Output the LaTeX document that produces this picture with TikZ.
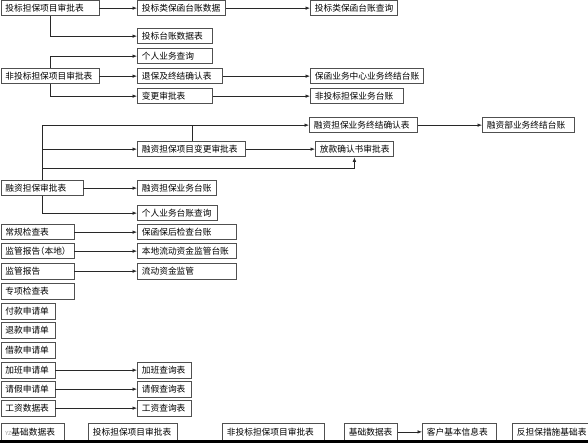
\documentclass[tikz,border=0pt]{standalone}
\usepackage{fontspec}
\setmainfont{Noto Sans CJK SC}[RawFeature=+halt]
\usepackage{xcolor}
\definecolor{boxgray}{RGB}{80,80,80}
\definecolor{linegray}{RGB}{40,40,40}
\usetikzlibrary{arrows.meta}

\begin{document}
\begin{tikzpicture}[x=1pt,y=-1pt,
      font=\fontsize{8.7}{10}\selectfont,
      box/.style={draw=boxgray,fill=white,anchor=north west,line width=0.8pt,
                  inner xsep=4.5pt,inner ysep=0pt,minimum height=15.5pt,
                  text width=\the\dimexpr#1pt-9pt\relax,align=left},
      arr/.style={-{Latex[length=4.5pt,width=3.5pt]},linegray,line width=0.6pt}]
    \useasboundingbox (0,0) rectangle (588,443);
    \fill[white] (0,0) rectangle (588,443);
    \node[box=98] (tbsp) at (0.5,0) {投标担保项目审批表};
    \node[box=88] (tbsj) at (137,0) {投标类保函台账数据};
    \node[box=87] (tbcx) at (310,0) {投标类保函台账查询};
    \node[box=75] (tbtz) at (137,28) {投标台账数据表};
    \node[box=75] (grcx) at (137,48) {个人业务查询};
    \node[box=98] (ftb) at (0.5,68) {非投标担保项目审批表};
    \node[box=85] (tbqr) at (137,68) {退保及终结确认表};
    \node[box=75] (bgsp) at (137,88) {变更审批表};
    \node[box=113] (zztz) at (310,68) {保函业务中心业务终结台账};
    \node[box=93] (ftz) at (310,88) {非投标担保业务台账};
    \draw[arr] (tbsp) -- (tbsj);
    \draw[arr] (tbsj) -- (tbcx);
    \draw[arr] ([xshift=50pt]tbsp.south west) |- (tbtz.west);
    \draw[arr] ([xshift=50pt]ftb.north west) |- (grcx.west);
    \draw[arr] (ftb) -- (tbqr);
    \draw[arr] ([xshift=50pt]ftb.south west) |- (bgsp.west);
    \draw[arr] (tbqr) -- (zztz);
    \draw[arr] (bgsp) -- (ftz);

    \node[box=108] (zjqr) at (309,117) {融资担保业务终结确认表};
    \node[box=92] (zjtz) at (482,117) {融资部业务终结台账};
    \node[box=108] (rzbg) at (137,141) {融资担保项目变更审批表};
    \node[box=78] (fksp) at (315,141) {放款确认书审批表};
    \node[box=82] (rzsp) at (0.5,180) {融资担保审批表};
    \node[box=79] (rztz) at (137,180) {融资担保业务台账};
    \node[box=80] (grtz) at (137,205) {个人业务台账查询};
    \draw[arr] ([xshift=41.5pt]rzsp.north west) |- (zjqr.west);
    \draw[arr] ([xshift=41.5pt]rzsp.north west) |- (rzbg.west);
    \draw[arr] ([xshift=41.5pt]rzsp.north west) |- ([yshift=-11pt]fksp.south) -- (fksp.south);
    \draw[arr] ([xshift=41.5pt]rzsp.south west) |- (grtz.west);
    \coordinate (bgtop) at ([xshift=55pt]rzbg.north west);
    \draw[linegray,line width=0.6pt] (bgtop) -- (bgtop |- zjqr.west);
    \draw[arr] (rzbg) -- (fksp);
    \draw[arr] (zjqr) -- (zjtz);
    \draw[arr] (rzsp) -- (rztz);

    \node[box=73] (cgjc) at (0.5,224) {常规检查表};
    \node[box=99] (bhjc) at (137,224) {保函保后检查台账};
    \node[box=73] (jgbd) at (0.5,243) {监管报告（本地）};
    \node[box=99] (bdjg) at (137,243) {本地流动资金监管台账};
    \node[box=73] (jgbg) at (0.5,263) {监管报告};
    \node[box=99] (ldjg) at (137,263) {流动资金监管};
    \node[box=73] (zxjc) at (0.5,283) {专项检查表};
    \node[box=54] (fksq) at (0.5,303) {付款申请单};
    \node[box=54] (tksq) at (0.5,322) {退款申请单};
    \node[box=54] (jksq) at (0.5,342) {借款申请单};
    \node[box=54] (jbsq) at (0.5,362) {加班申请单};
    \node[box=54] (jbcx) at (137,362) {加班查询表};
    \node[box=54] (qjsq) at (0.5,381) {请假申请单};
    \node[box=54] (qjcx) at (137,381) {请假查询表};
    \node[box=54] (gzsj) at (0.5,400) {工资数据表};
    \node[box=54] (gzcx) at (137,400) {工资查询表};
    \draw[arr] (cgjc) -- (bhjc);
    \draw[arr] (jgbd) -- (bdjg);
    \draw[arr] (jgbg) -- (ldjg);
    \draw[arr] (jbsq) -- (jbcx);
    \draw[arr] (qjsq) -- (qjcx);
    \draw[arr] (gzsj) -- (gzcx);

    \node[box=63,minimum height=17pt] (yzjc) at (0.5,423) {{\fontsize{5.5}{5}\selectfont\color{gray!80}YZ}基础数据表};
    \node[box=89,minimum height=17pt] (tbsp2) at (88,423) {投标担保项目审批表};
    \node[box=102,minimum height=17pt] (ftb2) at (222,423) {非投标担保项目审批表};
    \node[box=53,minimum height=17pt] (jcsj) at (344,423) {基础数据表};
    \node[box=74,minimum height=17pt] (khxx) at (422,423) {客户基本信息表};
    \node[box=80,minimum height=17pt] (fdb) at (512,423) {反担保措施基础表};
    \draw[arr] (jcsj) -- (khxx);
    \fill[black] (0,439.5) rectangle (588,443);
  \end{tikzpicture}
\end{document}
